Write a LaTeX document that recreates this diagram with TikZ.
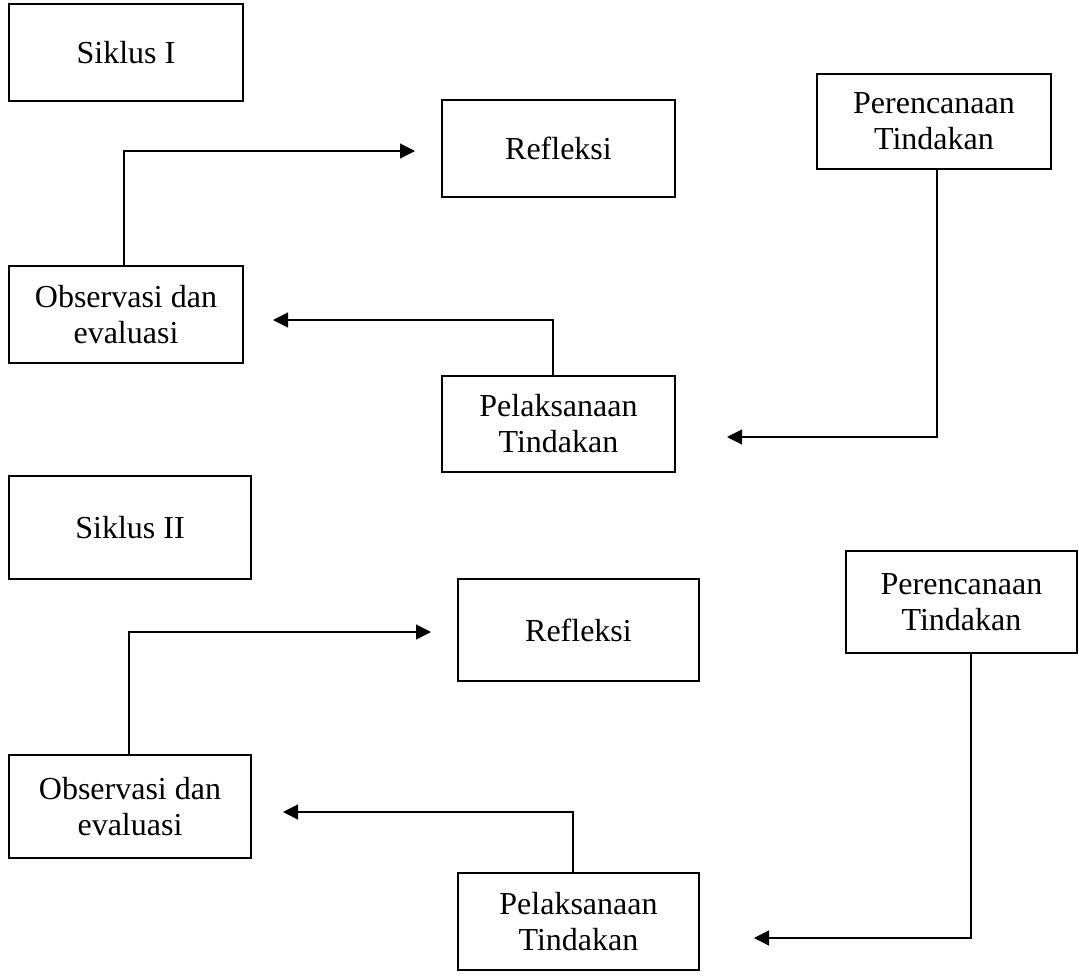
\documentclass[tikz,border=0pt]{standalone}
\usepackage{fontspec}
\setmainfont{Liberation Serif}
\usetikzlibrary{arrows.meta}

\begin{document}
\begin{tikzpicture}[
x=1pt,y=-1pt,
box/.style={draw,line width=2.8pt,inner sep=0pt,align=center,font=\fontsize{32}{36}\selectfont},
conn/.style={line width=1.2pt,-{Triangle[length=15pt,width=15pt]}}
]
\useasboundingbox (0,0) rectangle (1079,978);
% Siklus I
\node[box,minimum width=234,minimum height=97] (siklusA) at (126,52.5) {Siklus I};
\node[box,minimum width=233,minimum height=97] (refleksiA) at (558.5,148.5) {Refleksi};
\node[box,minimum width=234,minimum height=95] (perencanaanA) at (934,121.5) {Perencanaan\\Tindakan};
\node[box,minimum width=234,minimum height=97] (observasiA) at (126,314.5) {Observasi dan\\evaluasi};
\node[box,minimum width=233,minimum height=96] (pelaksanaanA) at (558.5,424) {Pelaksanaan\\Tindakan};
% Siklus II
\node[box,minimum width=242,minimum height=103] (siklusB) at (130,527.5) {Siklus II};
\node[box,minimum width=241,minimum height=102] (refleksiB) at (578.5,630) {Refleksi};
\node[box,minimum width=231,minimum height=102] (perencanaanB) at (961.5,602) {Perencanaan\\Tindakan};
\node[box,minimum width=242,minimum height=103] (observasiB) at (130,806.5) {Observasi dan\\evaluasi};
\node[box,minimum width=241,minimum height=97] (pelaksanaanB) at (578.5,921.5) {Pelaksanaan\\Tindakan};

% free arrow ends
\coordinate (tipA1) at (415,151);
\coordinate (tipA2) at (273,320);
\coordinate (tipA3) at (727,437);
\coordinate (tipB1) at (431,632);
\coordinate (tipB2) at (283,812);
\coordinate (tipB3) at (754,938);

\foreach \src/\dx/\tip in {observasiA.north/-2/tipA1,pelaksanaanA.north/-5.5/tipA2,perencanaanA.south/3/tipA3,
observasiB.north/-1/tipB1,pelaksanaanB.north/-5.5/tipB2,perencanaanB.south/9.5/tipB3}
{
\draw[conn] ([xshift=\dx]\src) |- (\tip);
}
\end{tikzpicture}
\end{document}
